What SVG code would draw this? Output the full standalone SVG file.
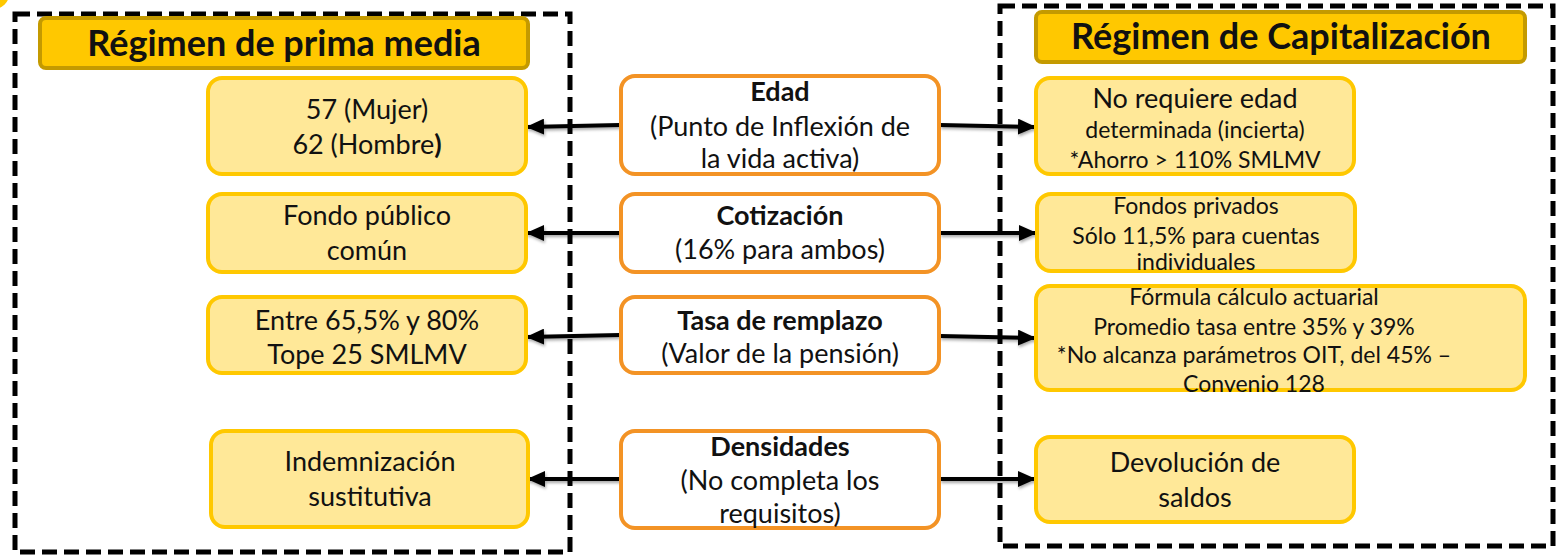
<svg xmlns="http://www.w3.org/2000/svg" width="1556" height="556" viewBox="0 0 1556 556">
<style>
.t{font-family:Lato,"Open Sans","Liberation Sans",sans-serif;fill:#111;text-anchor:middle}
.title{font-size:36px;font-weight:bold}
.b{font-weight:bold}
.f24{font-size:27px}
.f20{font-size:23px}
.dash{fill:none;stroke:#000;stroke-width:5;stroke-dasharray:15 7}
.ttl{fill:#FFC800;stroke:#C49A00;stroke-width:4}
.yel{fill:#FFE898;stroke:#FFC800;stroke-width:4}
.org{fill:#fff;stroke:#F39325;stroke-width:4}
.arr{stroke:#000;stroke-width:4;fill:none;marker-end:url(#ah)}
</style>
<defs>
<marker id="ah" markerWidth="18" markerHeight="16" refX="17" refY="8" orient="auto" markerUnits="userSpaceOnUse" viewBox="0 0 18 16">
<path d="M0,0 L18,8 L0,16 Z" fill="#000"/>
</marker>
<filter id="sh" x="-10%" y="-100%" width="120%" height="300%">
<feDropShadow dx="1" dy="2" stdDeviation="1.5" flood-color="#000" flood-opacity="0.35"/>
</filter>
</defs>
<rect width="1556" height="556" fill="#fff"/>
<circle cx="-6" cy="-6" r="15" fill="#FFC800"/>
<rect class="dash" x="15" y="14" width="555" height="538"/>
<rect class="dash" x="1000" y="6" width="553" height="540"/>

<g id="title-left"><rect class="ttl" x="40" y="18" width="488" height="50" rx="6"/><text class="t title" x="284" y="56">Régimen de prima media</text></g>
<g id="title-right"><rect class="ttl" x="1036" y="12" width="489" height="50" rx="6"/><text class="t title" x="1281" y="49">Régimen de Capitalización</text></g>

<g id="connectors" filter="url(#sh)">
<line class="arr" x1="620" y1="125" x2="527" y2="127"/>
<line class="arr" x1="940" y1="125" x2="1035" y2="127"/>
<line class="arr" x1="620" y1="233" x2="527" y2="233"/>
<line class="arr" x1="940" y1="233" x2="1036" y2="233"/>
<line class="arr" x1="620" y1="335" x2="527" y2="337"/>
<line class="arr" x1="940" y1="336" x2="1035" y2="338"/>
<line class="arr" x1="620" y1="479" x2="528" y2="479"/>
<line class="arr" x1="940" y1="479" x2="1035" y2="479"/>
</g>

<g id="l1"><rect class="yel" x="208" y="78" width="318" height="96" rx="14"/><text class="t f24" x="367" y="119">57 (Mujer)</text><text class="t f24" x="367" y="154">62 (Hombre<tspan class="b">)</tspan></text></g>
<g id="l2"><rect class="yel" x="208" y="194" width="318" height="78" rx="14"/><text class="t f24" x="367" y="225">Fondo público</text><text class="t f24" x="367" y="260">común</text></g>
<g id="l3"><rect class="yel" x="208" y="297" width="318" height="76" rx="14"/><text class="t f24" x="367" y="330">Entre 65,5% y 80%</text><text class="t f24" x="367" y="364">Tope 25 SMLMV</text></g>
<g id="l4"><rect class="yel" x="211" y="431" width="317" height="96" rx="14"/><text class="t f24" x="370" y="471">Indemnización</text><text class="t f24" x="370" y="506">sustitutiva</text></g>

<g id="c1"><rect class="org" x="621" y="76" width="318" height="98" rx="14"/><text class="t f24 b" x="780" y="101">Edad</text><text class="t f24" x="780" y="136">(Punto de Inflexión de</text><text class="t f24" x="780" y="168">la vida activa)</text></g>
<g id="c2"><rect class="org" x="621" y="194" width="318" height="78" rx="14"/><text class="t f24 b" x="780" y="225">Cotización</text><text class="t f24" x="780" y="259">(16% para ambos)</text></g>
<g id="c3"><rect class="org" x="621" y="297" width="318" height="76" rx="14"/><text class="t f24 b" x="780" y="330">Tasa de remplazo</text><text class="t f24" x="780" y="363">(Valor de la pensión)</text></g>
<g id="c4"><rect class="org" x="621" y="431" width="318" height="97" rx="14"/><text class="t f24 b" x="780" y="456">Densidades</text><text class="t f24" x="780" y="490">(No completa los</text><text class="t f24" x="780" y="523">requisitos)</text></g>

<g id="r1"><rect class="yel" x="1036" y="78" width="318" height="96" rx="14"/><text class="t f24" x="1195" y="108">No requiere edad</text><text class="t f20" x="1195" y="138">determinada (incierta)</text><text class="t f20" x="1195" y="168">*Ahorro &gt; 110% SMLMV</text></g>
<g id="r2"><rect class="yel" x="1037" y="194" width="318" height="77" rx="14"/><text class="t f20" x="1196" y="214">Fondos privados</text><text class="t f20" x="1196" y="244">Sólo 11,5% para cuentas</text><text class="t f20" x="1196" y="270">individuales</text></g>
<g id="r3"><rect class="yel" x="1036" y="286" width="489" height="104" rx="14"/><text class="t f20" x="1254" y="305">Fórmula cálculo actuarial</text><text class="t f20" x="1254" y="335">Promedio tasa entre 35% y 39%</text><text class="t f20" x="1254" y="363">*No alcanza parámetros OIT, del 45% –</text><text class="t f20" x="1254" y="392">Convenio 128</text></g>
<g id="r4"><rect class="yel" x="1036" y="437" width="318" height="85" rx="14"/><text class="t f24" x="1195" y="472">Devolución de</text><text class="t f24" x="1195" y="507">saldos</text></g>
</svg>
